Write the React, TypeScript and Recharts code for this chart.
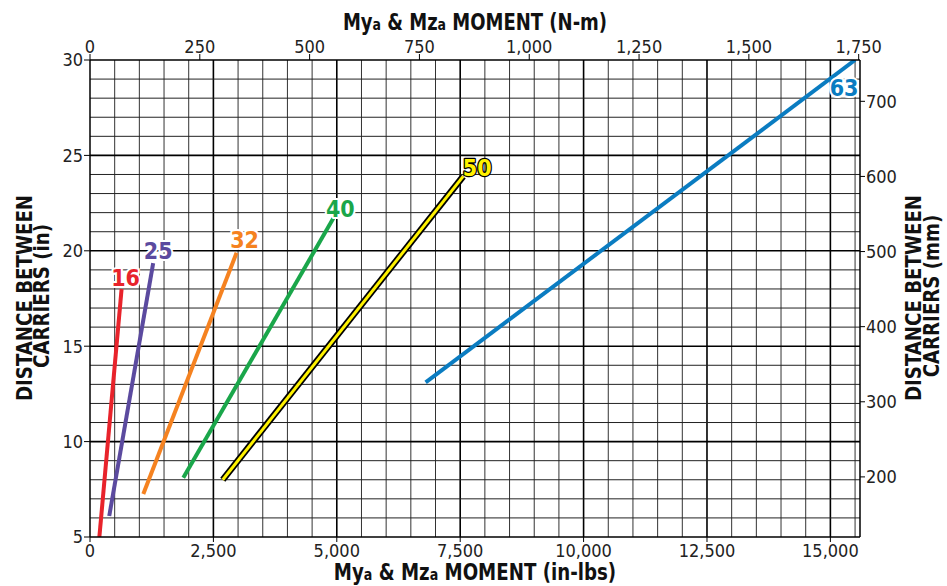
import { LineChart, Line, XAxis, YAxis, ReferenceLine } from 'recharts';

// carrier sizes and the end points of each capacity line
const sizes = ['16', '25', '32', '40', '50', '63'];
const startMoment = [190, 390, 1080, 1890, 2690, 6800]; // in-lbs
const startDistance = [5, 6.1, 7.25, 8.1, 8, 13.1]; // in
const endMoment = [640, 1280, 2970, 4930, 7560, 15500]; // in-lbs
const endDistance = [18, 19.35, 19.9, 21.7, 23.9, 30]; // in
const colors = ['#e8232b', '#5b4a9f', '#f58220', '#1aa64a', '#fff200', '#0a7cc1'];

const inLbsTicks = [0, 2500, 5000, 7500, 10000, 12500, 15000];
const nmTicks = [0, 250, 500, 750, 1000, 1250, 1500, 1750];
const inTicks = [5, 10, 15, 20, 25, 30];
const mmTicks = [200, 300, 400, 500, 600, 700];

const labelOffsets = [
  [4, -11],
  [5, -12],
  [8, -13],
  [7, -9],
  [14, -8],
  [-11, 28],
];

const FONT = "'Liberation Sans Narrow', 'DejaVu Sans Condensed', sans-serif";

const gridX: number[] = [];
for (let v = 500; v <= 15500; v += 500) gridX.push(v);
const gridY: number[] = [];
for (let v = 6; v < 30; v += 1) gridY.push(v);

const lines = sizes.map((s, i) => ({
  size: s,
  color: colors[i],
  data: [
    { m: startMoment[i], d: startDistance[i] },
    { m: endMoment[i], d: endDistance[i] },
  ],
}));

// the same 63 line in metric units, only so the N-m / mm axes get a series
const metricData = [
  { nm: startMoment[5] / 8.8507, mm: startDistance[5] * 25.4 },
  { nm: endMoment[5] / 8.8507, mm: endDistance[5] * 25.4 },
];

const tickStyle = { fontSize: 18, fill: '#222', fontFamily: FONT };

function makeLabel(i: number) {
  return (props: any) => {
    if (props.index !== 1) return null;
    const [dx, dy] = labelOffsets[i];
    const yellow = i === 4;
    return (
      <text
        x={props.x + dx}
        y={props.y + dy}
        textAnchor="middle"
        dominantBaseline="central"
        fontFamily={FONT}
        fontWeight="bold"
        fontSize={23}
        fill={colors[i]}
        stroke={yellow ? '#000' : '#fff'}
        strokeWidth={yellow ? 2.5 : 4}
        paintOrder="stroke"
        strokeLinejoin="round"
      >
        {sizes[i]}
      </text>
    );
  };
}

export default function App() {
  return (
    <div style={{ position: 'absolute', left: 0, top: 0, width: 947, height: 586, background: '#fff' }}>
      <LineChart width={947} height={586} margin={{ top: 0, right: 0, bottom: 0, left: 0 }}>
        <XAxis
          xAxisId="b"
          dataKey="m"
          type="number"
          domain={[0, 15600]}
          ticks={inLbsTicks}
          tickFormatter={(v) => v.toLocaleString('en-US')}
          height={49}
          tickSize={5}
          tickMargin={2}
          tick={tickStyle}
          axisLine={{ stroke: '#000', strokeWidth: 1.5 }}
          tickLine={{ stroke: '#000' }}
          allowDataOverflow
        />
        <XAxis
          xAxisId="t"
          dataKey="nm"
          orientation="top"
          type="number"
          domain={[0, 1753]}
          ticks={nmTicks}
          tickFormatter={(v) => v.toLocaleString('en-US')}
          height={60}
          tickSize={6}
          tickMargin={1}
          tick={tickStyle}
          axisLine={{ stroke: '#000', strokeWidth: 1.5 }}
          tickLine={{ stroke: '#000' }}
          allowDataOverflow
        />
        <YAxis
          yAxisId="in"
          dataKey="d"
          type="number"
          domain={[5, 30]}
          ticks={inTicks}
          width={90}
          tickSize={6}
          tickMargin={1}
          tick={tickStyle}
          axisLine={{ stroke: '#000', strokeWidth: 1.5 }}
          tickLine={{ stroke: '#000' }}
          allowDataOverflow
        />
        <YAxis
          yAxisId="mm"
          dataKey="mm"
          orientation="right"
          type="number"
          domain={[120, 755]}
          ticks={mmTicks}
          width={87}
          tickSize={5}
          tickMargin={1}
          tick={tickStyle}
          axisLine={{ stroke: '#000', strokeWidth: 1.5 }}
          tickLine={{ stroke: '#000' }}
          allowDataOverflow
        />
        {gridX.map((v) => (
          <ReferenceLine
            key={'x' + v}
            xAxisId="b"
            yAxisId="in"
            x={v}
            stroke={v % 2500 === 0 ? '#000' : '#333'}
            strokeWidth={v % 2500 === 0 ? 1.6 : 1}
          />
        ))}
        {gridY.map((v) => (
          <ReferenceLine
            key={'y' + v}
            xAxisId="b"
            yAxisId="in"
            y={v}
            stroke={v % 5 === 0 ? '#000' : '#222'}
            strokeWidth={v % 5 === 0 ? 1.6 : 1}
          />
        ))}
        <Line
          xAxisId="t"
          yAxisId="mm"
          data={metricData}
          dataKey="mm"
          stroke="none"
          dot={false}
          legendType="none"
          isAnimationActive={false}
        />
        <Line
          xAxisId="b"
          yAxisId="in"
          data={lines[4].data}
          dataKey="d"
          stroke="#000"
          strokeWidth={6.5}
          dot={false}
          isAnimationActive={false}
        />
        {lines.map((l, i) => (
          <Line
            key={l.size}
            xAxisId="b"
            yAxisId="in"
            data={l.data}
            dataKey="d"
            name={l.size}
            stroke={l.color}
            strokeWidth={i === 4 ? 3 : 4}
            dot={false}
            label={makeLabel(i)}
            isAnimationActive={false}
          />
        ))}
      </LineChart>
      <svg
        width={947}
        height={586}
        style={{ position: 'absolute', left: 0, top: 0, pointerEvents: 'none' }}
        fontFamily={FONT}
        fontWeight="bold"
        fill="#111"
      >
        <text transform="translate(475,30) scale(0.87,1)" textAnchor="middle" fontSize={23}>
          My<tspan fontSize={16}>a</tspan> &amp; Mz<tspan fontSize={16}>a</tspan> MOMENT (N-m)
        </text>
        <text transform="translate(475,580) scale(0.88,1)" textAnchor="middle" fontSize={23}>
          My<tspan fontSize={16}>a</tspan> &amp; Mz<tspan fontSize={16}>a</tspan> MOMENT (in-lbs)
        </text>
        <g transform="translate(32,298) rotate(-90) scale(0.92,1)">
          <text x={0} y={0} textAnchor="middle" fontSize={22}>
            DISTANCE BETWEEN
          </text>
        </g>
        <g transform="translate(49,296) rotate(-90) scale(0.92,1)">
          <text x={0} y={0} textAnchor="middle" fontSize={22}>
            CARRIERS (in)
          </text>
        </g>
        <g transform="translate(921,298) rotate(-90) scale(0.92,1)">
          <text x={0} y={0} textAnchor="middle" fontSize={22}>
            DISTANCE BETWEEN
          </text>
        </g>
        <g transform="translate(939,296) rotate(-90) scale(0.92,1)">
          <text x={0} y={0} textAnchor="middle" fontSize={22}>
            CARRIERS (mm)
          </text>
        </g>
      </svg>
    </div>
  );
}
